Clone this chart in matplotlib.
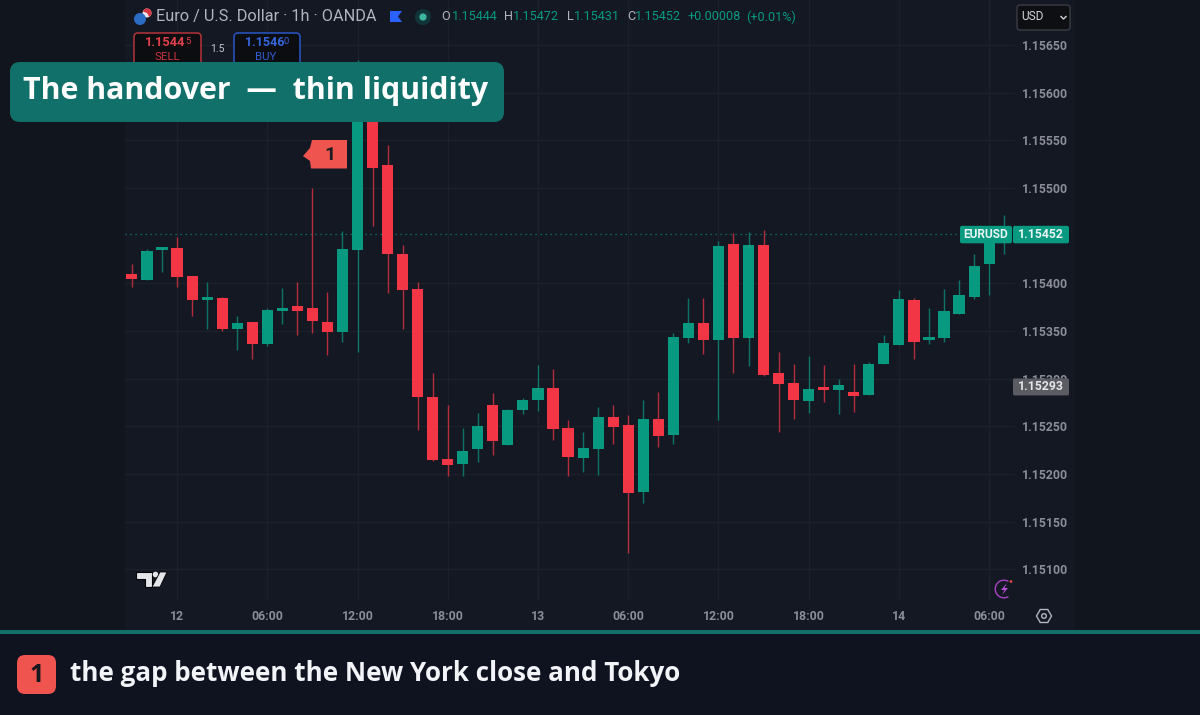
# plot.py - EURUSD 1h candles, TradingView style
import matplotlib
matplotlib.use("Agg")
import matplotlib.pyplot as plt
from matplotlib.patches import FancyBboxPatch, Polygon, Circle, Wedge, Rectangle, RegularPolygon

opens = [1.15410, 1.15404, 1.15435, 1.15437, 1.15408, 1.15383, 1.15385, 1.15352, 1.15360, 1.15336,
         1.15371, 1.15376, 1.15374, 1.15360, 1.15349, 1.15435, 1.15592, 1.15524, 1.15431, 1.15394,
         1.15281, 1.15216, 1.15211, 1.15226, 1.15273, 1.15231, 1.15267, 1.15278, 1.15290, 1.15248,
         1.15217, 1.15226, 1.15260, 1.15252, 1.15181, 1.15258, 1.15241, 1.15343, 1.15358, 1.15341,
         1.15441, 1.15343, 1.15440, 1.15306, 1.15296, 1.15277, 1.15290, 1.15288, 1.15286, 1.15283,
         1.15315, 1.15335, 1.15383, 1.15341, 1.15343, 1.15368, 1.15386, 1.15420, 1.15444]
highs = [1.15420, 1.15436, 1.15438, 1.15449, 1.15408, 1.15402, 1.15386, 1.15366, 1.15360, 1.15374,
         1.15395, 1.15401, 1.15500, 1.15391, 1.15455, 1.15634, 1.15605, 1.15545, 1.15440, 1.15402,
         1.15306, 1.15273, 1.15248, 1.15264, 1.15285, 1.15268, 1.15280, 1.15314, 1.15310, 1.15257,
         1.15244, 1.15270, 1.15273, 1.15262, 1.15278, 1.15286, 1.15348, 1.15385, 1.15385, 1.15444,
         1.15453, 1.15454, 1.15456, 1.15328, 1.15316, 1.15324, 1.15314, 1.15300, 1.15316, 1.15318,
         1.15346, 1.15393, 1.15385, 1.15374, 1.15394, 1.15404, 1.15431, 1.15448, 1.15472]
lows = [1.15396, 1.15404, 1.15412, 1.15396, 1.15366, 1.15352, 1.15350, 1.15330, 1.15321, 1.15334,
        1.15357, 1.15346, 1.15348, 1.15325, 1.15339, 1.15328, 1.15460, 1.15390, 1.15352, 1.15246,
        1.15214, 1.15198, 1.15198, 1.15213, 1.15220, 1.15231, 1.15263, 1.15266, 1.15236, 1.15198,
        1.15202, 1.15199, 1.15232, 1.15117, 1.15170, 1.15228, 1.15232, 1.15338, 1.15326, 1.15257,
        1.15306, 1.15313, 1.15303, 1.15244, 1.15258, 1.15264, 1.15276, 1.15263, 1.15265, 1.15283,
        1.15315, 1.15335, 1.15321, 1.15336, 1.15339, 1.15368, 1.15384, 1.15388, 1.15431]
closes = [1.15405, 1.15434, 1.15436, 1.15407, 1.15383, 1.15385, 1.15352, 1.15359, 1.15336, 1.15372,
          1.15374, 1.15371, 1.15361, 1.15349, 1.15436, 1.15592, 1.15521, 1.15431, 1.15393, 1.15281,
          1.15215, 1.15210, 1.15224, 1.15250, 1.15235, 1.15267, 1.15278, 1.15290, 1.15247, 1.15218,
          1.15227, 1.15260, 1.15249, 1.15180, 1.15258, 1.15240, 1.15344, 1.15359, 1.15341, 1.15439,
          1.15343, 1.15440, 1.15304, 1.15295, 1.15278, 1.15289, 1.15288, 1.15293, 1.15282, 1.15316,
          1.15338, 1.15384, 1.15339, 1.15344, 1.15371, 1.15388, 1.15418, 1.15444, 1.15452]

# 1.15450 is left out: the last price tag covers it in the original
price_ticks = [1.15100, 1.15150, 1.15200, 1.15250, 1.15300, 1.15350, 1.15400,
               1.15500, 1.15550, 1.15600, 1.15650]
time_pos = [3, 9, 15, 21, 27, 33, 39, 45, 51, 57]
time_labels = ["12", "06:00", "12:00", "18:00", "13", "06:00", "12:00", "18:00", "14", "06:00"]
last_price = 1.15452
mark_price = 1.15293

UP = "#089981"
DOWN = "#f23645"
BG = "#141823"
TEAL = "#12706a"
CORAL = "#f0544f"
GREY = "#8b8e97"
BOLD = ["Open Sans", "DejaVu Sans"]

plt.rcParams["font.family"] = ["Roboto", "DejaVu Sans"]

fig = plt.figure(figsize=(12, 7.15), dpi=100, facecolor="#11151e")
W, H = 1200, 715

# scale area behind pane and axes
fig.patches.append(Rectangle((125 / W, 1 - 630 / H), 950 / W, 630 / H, transform=fig.transFigure,
                             fc=BG, ec="none", zorder=-1))

# chart pane, pixels: x 125-1015, y 0-600
ax = fig.add_axes([125 / W, 1 - 600 / H, 890 / W, 600 / H], facecolor=BG)
ax.set_xlim(-0.46, 58.72)
ax.set_ylim(1.150680, 1.156972)
for s in ax.spines.values():
    s.set_visible(False)
ax.grid(True, color="#1c2029", lw=0.9)
ax.set_axisbelow(True)
ax.yaxis.tick_right()
ax.set_yticks(price_ticks)
ax.set_yticklabels(["%.5f" % p for p in price_ticks], color=GREY, fontsize=8.8, fontweight="bold",
                   va="center_baseline")
ax.set_xticks(time_pos)
ax.set_xticklabels(time_labels, color=GREY, fontsize=8.8, fontweight="bold")
ax.tick_params(axis="both", length=0)
ax.tick_params(axis="y", pad=5)
ax.tick_params(axis="x", pad=7)

# candles
for i in range(len(opens)):
    col = UP if closes[i] >= opens[i] else DOWN
    ax.vlines(i, lows[i], highs[i], color=col, lw=1.0, alpha=0.72, zorder=2)
    low, high = sorted((opens[i], closes[i]))
    ax.bar(i, max(high - low, 0.00003), bottom=low, width=0.74, color=col, zorder=3, lw=0)

ax.axhline(last_price, color=UP, lw=0.9, ls=(0, (1, 3)), alpha=0.8, zorder=2)

# overlay in pixel coordinates for the UI bits
ov = fig.add_axes([0, 0, 1, 1], facecolor="none")
ov.set_xlim(0, W)
ov.set_ylim(H, 0)
ov.axis("off")
def price_y(p):
    return 45 + (1.1565 - p) * 95364

def box(x0, y0, x1, y1, r, fc, ec="none", lw=0, z=5):
    ov.add_patch(FancyBboxPatch((x0 + r, y0 + r), x1 - x0 - 2 * r, y1 - y0 - 2 * r,
                                boxstyle="round,pad=%g,rounding_size=%g" % (r, r),
                                fc=fc, ec=ec, lw=lw, zorder=z))

# header row
ov.add_patch(Circle((140, 19), 6, fc="#2b6cc4", zorder=5))
ov.add_patch(Circle((147, 13), 4.5, fc="#e8e8ee", zorder=4))
ov.add_patch(Wedge((147, 13), 4.5, 200, 60, fc="#d8353f", zorder=4.5))
ov.text(156, 17, "Euro / U.S. Dollar · 1h · OANDA", color="#b2b5be", fontsize=11.7, va="center", zorder=6)
ov.add_patch(Polygon([(390, 11), (402, 11), (398, 16.5), (402, 22), (390, 22)], fc="#2962ff", zorder=6))
ov.add_patch(Circle((423, 17), 8, fc="#10363a", zorder=5))
ov.add_patch(Circle((423, 17), 3.6, fc="#3fb59d", zorder=6))
for x, s, c in [(441, "O", "#b2b5be"), (452, "1.15444", UP), (504, "H", "#b2b5be"), (513, "1.15472", UP),
                (567, "L", "#b2b5be"), (574, "1.15431", UP), (627, "C", "#b2b5be"), (635, "1.15452", UP),
                (688, "+0.00008", UP), (746, "(+0.01%)", UP)]:
    ov.text(x, 17, s, color=c, fontsize=9.1, va="center", zorder=6)

# sell / buy boxes
box(134, 33, 201, 66, 4, "#0c0d10", "#b5343c", 1.1)
box(234, 33, 300, 66, 4, "#0c0d10", "#2a56c6", 1.1)
ov.text(145, 43, "1.1544", color="#e0404a", fontsize=9.3, fontweight="bold", va="center", zorder=6)
ov.text(185, 41.5, "5", color="#e0404a", fontsize=6.8, va="center", zorder=6)
ov.text(167, 57, "SELL", color="#c8343e", fontsize=8.2, ha="center", va="center", zorder=6)
ov.text(245, 43, "1.1546", color="#3566dd", fontsize=9.0, fontweight="bold", va="center", zorder=6)
ov.text(283.5, 41.5, "0", color="#3566dd", fontsize=6.8, va="center", zorder=6)
ov.text(266, 57, "BUY", color="#2f5ecf", fontsize=8.2, ha="center", va="center", zorder=6)
ov.text(217, 49.5, "1.5", color="#c4c6cc", fontsize=7.6, ha="center", va="center", zorder=6)

# title banner
box(10, 62, 504, 122, 10, TEAL, z=8)
ov.text(23, 91, "The handover  —  thin liquidity", color="white", fontsize=21.9, fontweight="bold",
        family=BOLD, va="center", zorder=9)

# marker 1 on the chart
ov.add_patch(Polygon([(347, 140), (312, 140), (310, 148), (303, 156), (310, 161), (311, 168.5), (347, 168.5)],
                     fc=CORAL, zorder=6))
ov.text(330, 155, "1", color="#1c1c22", fontsize=14, fontweight="bold", ha="center", va="center", zorder=7)

# currency selector
box(1017, 5, 1070, 30, 3, "#0e0f12", "#3a3d45", 1)
ov.text(1021, 17, "USD", color="#d5d6da", fontsize=8.6, va="center", zorder=6)
ov.plot([1061, 1063.5, 1066], [16.5, 19, 16.5], color="#d5d6da", lw=1, zorder=6)

# last price tags
y_last = price_y(last_price)
box(960, y_last - 8, 1012, y_last + 9.5, 2, UP, z=6)
box(1013, y_last - 8, 1069, y_last + 9.5, 2, UP, z=6)
ov.text(986, y_last + 1, "EURUSD", color="#e8f5f2", fontsize=8.6, fontweight="bold", ha="center", va="center", zorder=7)
ov.text(1041, y_last + 1, "%.5f" % last_price, color="#e8f5f2", fontsize=8.8, fontweight="bold", ha="center", va="center", zorder=7)
y_mark = price_y(mark_price)
box(1013, y_mark - 7, 1069, y_mark + 10, 1.5, "#5a5c62", z=6)
ov.text(1041, y_mark + 1.5, "%.5f" % mark_price, color="#e4e5e8", fontsize=8.8, fontweight="bold", ha="center", va="center", zorder=7)

# tradingview logo
ov.add_patch(Polygon([(136, 572), (152, 572), (152, 587), (145, 587), (145, 579), (136, 579)], fc="#e4e5e8", ec="#000000", lw=0.8, zorder=6))
ov.add_patch(Circle((155.5, 574.5), 2.8, fc="#e4e5e8", zorder=6))
ov.add_patch(Polygon([(160, 572), (167, 572), (160, 587), (152, 587)], fc="#e4e5e8", ec="#000000", lw=0.6, zorder=6))

# lightning icon, clipped by the pane edge
ov.add_patch(Wedge((1004, 589), 9.5, 60, 300, width=1.4, fc="#a845c4", zorder=6))
ov.add_patch(Polygon([(1007, 583), (1001, 590), (1004.5, 590), (1002, 595), (1008, 588), (1004.5, 588)], fc="#b84fd6", zorder=6))
ov.add_patch(Circle((1011, 581.5), 1.4, fc="#e04848", zorder=6))

# settings icon
ov.add_patch(RegularPolygon((1044, 616), 6, radius=7.5, orientation=0.5236, fc="none", ec="#b2b5be", lw=1.0, zorder=6))
ov.add_patch(Circle((1044, 616), 2.3, fc="none", ec="#b2b5be", lw=1.0, zorder=6))

# footer strip
ov.add_patch(Rectangle((0, 634), W, 81, fc="#0f1320", zorder=4))
ov.add_patch(Rectangle((0, 630), W, 4, fc=TEAL, zorder=5))
box(17, 655, 56, 694, 8, CORAL, z=6)
ov.text(36.5, 675, "1", color="#16181f", fontsize=18, fontweight="bold", family=BOLD,
        ha="center", va="center", zorder=7)
ov.text(70, 673.5, "the gap between the New York close and Tokyo", color="#f2f4f8", fontsize=18.75, fontweight="bold",
        family=BOLD, va="center", zorder=7)

fig.savefig("out.png", dpi=100, facecolor=fig.get_facecolor())
